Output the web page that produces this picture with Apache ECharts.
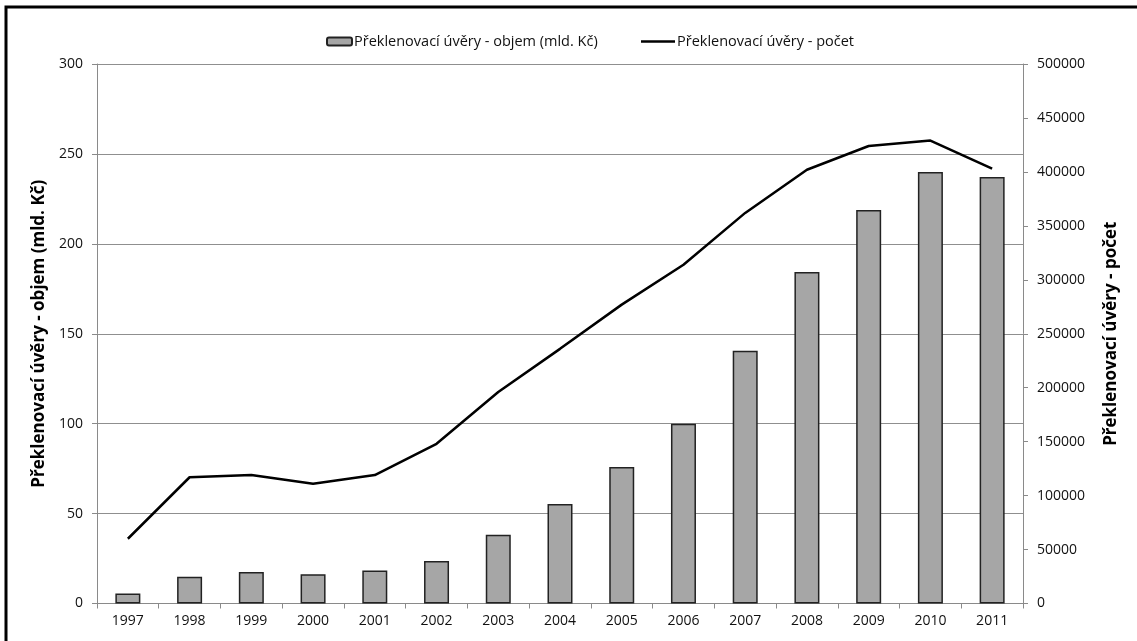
<!DOCTYPE html>
<html>
<head>
<meta charset="utf-8">
<script src="https://cdn.jsdelivr.net/npm/echarts@6/dist/echarts.min.js"></script>
<style>
html,body{margin:0;padding:0;background:#fff;}
#chart{width:1137px;height:641px;}
</style>
</head>
<body>
<div id="chart"></div>
<script>
// Roky a hodnoty překlenovacích úvěrů
const years = ['1997','1998','1999','2000','2001','2002','2003','2004','2005','2006','2007','2008','2009','2010','2011'];
const volume = [5.5, 14.9, 17.5, 16.3, 18.3, 23.7, 38.2, 55.3, 75.9, 100.0, 140.5, 184.3, 218.8, 240.0, 237.2];
const count = [60000, 117000, 119000, 111000, 119000, 148000, 196000, 236000, 277000, 314000, 362000, 402000, 424000, 429000, 403000];
const volumeName = 'Překlenovací úvěry - objem (mld. Kč)';
const countName = 'Překlenovací úvěry - počet';

const font = '"Open Sans", "DejaVu Sans", sans-serif';
const axisGray = '#8a8a8a';
const textColor = '#111';

const chart = echarts.init(document.getElementById('chart'), null, {renderer: 'canvas'});
chart.setOption({
  backgroundColor: '#fff',
  animation: false,
  textStyle: {fontFamily: font, color: textColor},
  // rámeček kolem celého grafu
  graphic: [{
    type: 'rect',
    shape: {x: 6, y: 7, width: 1140, height: 650},
    style: {fill: 'none', stroke: '#000', lineWidth: 3},
    silent: true
  }],
  legend: [{
    left: 321, top: 29,
    itemWidth: 25, itemHeight: 8,
    textStyle: {fontFamily: font, fontSize: 14.5, color: textColor, padding: [0, 0, 0, -3]},
    data: [volumeName]
  }, {
    left: 636, top: 29,
    itemWidth: 34, itemHeight: 8,
    textStyle: {fontFamily: font, fontSize: 14.5, color: textColor, padding: [0, 0, 0, -3]},
    data: [{name: countName, icon: 'path://M0,0 H34 V2.5 H0 Z'}]
  }],
  grid: {left: 97, right: 114, top: 64, bottom: 37.5, containLabel: false},
  xAxis: {
    type: 'category',
    data: years,
    boundaryGap: true,
    axisLine: {lineStyle: {color: axisGray, width: 1}},
    axisTick: {show: true, length: 5, lineStyle: {color: axisGray}},
    axisLabel: {fontFamily: font, fontSize: 14, color: textColor, margin: 11}
  },
  yAxis: [{
    type: 'value',
    min: 0, max: 300, interval: 50,
    name: volumeName,
    nameLocation: 'middle',
    nameGap: 47,
    nameTextStyle: {fontFamily: font, fontSize: 17, fontWeight: 'bold', color: '#000'},
    axisLine: {show: true, lineStyle: {color: axisGray}},
    axisTick: {show: true, length: 5, lineStyle: {color: axisGray}},
    axisLabel: {fontFamily: font, fontSize: 14, color: textColor, margin: 14},
    splitLine: {show: true, lineStyle: {color: '#8f8f8f', width: 1}}
  }, {
    type: 'value',
    min: 0, max: 500000, interval: 50000,
    name: countName,
    nameLocation: 'middle',
    nameGap: 80,
    nameRotate: 90,
    nameTextStyle: {fontFamily: font, fontSize: 17, fontWeight: 'bold', color: '#000'},
    position: 'right',
    axisLine: {show: true, lineStyle: {color: axisGray}},
    axisTick: {show: true, length: 5, lineStyle: {color: axisGray}},
    axisLabel: {fontFamily: font, fontSize: 14, color: textColor, margin: 14, formatter: v => String(v)},
    splitLine: {show: false}
  }],
  series: [{
    name: volumeName,
    type: 'bar',
    yAxisIndex: 0,
    data: volume,
    barWidth: 25,
    itemStyle: {color: '#a6a6a6', borderColor: '#222', borderWidth: 1.5},
    z: 2
  }, {
    name: countName,
    type: 'line',
    yAxisIndex: 1,
    data: count,
    symbol: 'none',
    lineStyle: {color: '#000', width: 2.5},
    itemStyle: {color: '#000'},
    z: 3
  }]
});
</script>
</body>
</html>
